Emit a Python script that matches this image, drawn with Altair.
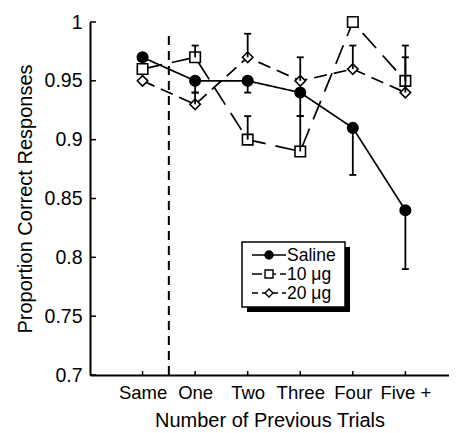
import altair as alt
import pandas as pd

# ---- data ----
categories = ["Same", "One", "Two", "Three", "Four", "Five +"]
cat_pos = [1, 2, 3, 4, 5, 6]
series_names = ["Saline", "10 μg", "20 μg"]

saline = [0.97, 0.95, 0.95, 0.94, 0.91, 0.84]
ug10 = [0.96, 0.97, 0.90, 0.89, 1.00, 0.95]
ug20 = [0.95, 0.93, 0.97, 0.95, 0.96, 0.94]

# end point of each (one-sided) error bar, None = no bar drawn
saline_err = [None, 0.94, 0.94, 0.92, 0.87, 0.79]
ug10_err = [None, 0.98, 0.92, 0.92, None, 0.98]
ug20_err = [None, 0.94, 0.99, 0.97, 0.98, 0.97]

y_ticks = [0.7, 0.75, 0.8, 0.85, 0.9, 0.95, 1.0]
divider_x = [1.5]
divider_bottom = [0.7]
divider_top = [0.993]

FONT = "Liberation Sans"

rows = []
for name, vals, errs in [("Saline", saline, saline_err),
                         ("10 μg", ug10, ug10_err),
                         ("20 μg", ug20, ug20_err)]:
    for c, p, v, e in zip(categories, cat_pos, vals, errs):
        rows.append({"series": name, "cat": c, "pos": p, "value": v, "end": e})
df = pd.DataFrame(rows)
df_err = df.dropna(subset=["end"])

xscale = alt.Scale(domain=[0, 6.83], nice=False, zero=False)
yscale = alt.Scale(domain=[0.7, 1.0], nice=False, zero=False)

label_expr = "datum.value == 1 ? 'Same' : datum.value == 2 ? 'One' : datum.value == 3 ? 'Two' : datum.value == 4 ? 'Three' : datum.value == 5 ? 'Four' : 'Five +'"

X = alt.X("pos:Q", scale=xscale,
          axis=alt.Axis(values=cat_pos, labelExpr=label_expr, ticks=False,
                        title="Number of Previous Trials", labelPadding=8,
                        titlePadding=9, grid=False))
Y = alt.Y("value:Q", scale=yscale,
          axis=alt.Axis(values=y_ticks, format="~g", ticks=False,
                        title="Proportion Correct Responses", labelPadding=8,
                        titlePadding=9, grid=False))

dash_scale = alt.Scale(domain=series_names, range=[[1, 0], [20, 10], [13, 7]])
shape_scale = alt.Scale(domain=series_names, range=["circle", "square", "diamond"])
fill_scale = alt.Scale(domain=series_names, range=["black", "white", "white"])
size_scale = alt.Scale(domain=series_names, range=[110, 110, 130])

base = alt.Chart(df)

lines = base.mark_line(color="black", strokeWidth=1.7).encode(
    x=X, y=Y,
    strokeDash=alt.StrokeDash("series:N", scale=dash_scale, legend=None),
)

points = base.mark_point(filled=True, stroke="black", strokeWidth=1.6, opacity=1).encode(
    x=X, y=Y,
    shape=alt.Shape("series:N", scale=shape_scale, legend=None),
    fill=alt.Fill("series:N", scale=fill_scale, legend=None),
    size=alt.Size("series:N", scale=size_scale, legend=None),
)

err_bars = alt.Chart(df_err).mark_rule(color="black", strokeWidth=1.8).encode(
    x=X, y=Y, y2="end:Q")
err_caps = alt.Chart(df_err).mark_point(shape="M-1,0H1", stroke="black",
                                        strokeWidth=1.8, size=49, opacity=1).encode(
    x=X, y=alt.Y("end:Q", scale=yscale))

div_df = pd.DataFrame({"pos": divider_x, "bottom": divider_bottom, "top": divider_top})
divider = alt.Chart(div_df).mark_rule(color="black", strokeWidth=2,
                                      strokeDash=[9, 6]).encode(
    x=alt.X("pos:Q", scale=xscale), y=alt.Y("bottom:Q", scale=yscale), y2="top:Q")

yt_df = pd.DataFrame({"value": y_ticks})
y_tick_marks = alt.Chart(yt_df).mark_rule(color="black", strokeWidth=1.5).encode(
    y=alt.Y("value:Q", scale=yscale), x=alt.value(0), x2=alt.value(6))
xt_df = pd.DataFrame({"pos": cat_pos})
x_tick_marks = alt.Chart(xt_df).mark_rule(color="black", strokeWidth=1.5).encode(
    x=alt.X("pos:Q", scale=xscale), y=alt.value(353), y2=alt.value(349))

# ---- legend box (decoration) ----
one = pd.DataFrame({"k": [0]})
LX0, LX1, LY0, LY1 = 152, 255, 220, 285
shadow = alt.Chart(one).mark_rect(color="black").encode(
    x=alt.value(LX0 + 5), x2=alt.value(LX1 + 5),
    y=alt.value(LY0 + 5), y2=alt.value(LY1 + 5))
box = alt.Chart(one).mark_rect(fill="white", stroke="black", strokeWidth=1.5).encode(
    x=alt.value(LX0), x2=alt.value(LX1), y=alt.value(LY0), y2=alt.value(LY1))

legend_layers = [shadow, box]
leg_dash = [[1, 0], [10, 4], [6, 4]]
leg_shape = ["circle", "square", "diamond"]
leg_fill = ["black", "white", "white"]
for i, name in enumerate(series_names):
    yy = 233 + i * 19
    legend_layers.append(alt.Chart(one).mark_rule(color="black", strokeWidth=1.6,
                                                  strokeDash=leg_dash[i]).encode(
        x=alt.value(162), x2=alt.value(196), y=alt.value(yy)))
    legend_layers.append(alt.Chart(one).mark_point(
        shape=leg_shape[i], fill=leg_fill[i], filled=True, stroke="black",
        strokeWidth=1.4, size=64, opacity=1).encode(
        x=alt.value(179), y=alt.value(yy)))
    legend_layers.append(alt.Chart(one).mark_text(
        align="left", baseline="middle", font=FONT, fontSize=17.5, color="black").encode(
        x=alt.value(197), y=alt.value(yy + 1), text=alt.value(name)))

chart = alt.layer(divider, lines, points, err_bars, err_caps, y_tick_marks,
                  x_tick_marks, *legend_layers).properties(
    width=359, height=353,
    autosize=alt.AutoSizeParams(type="none"),
    padding={"left": 82, "top": 14, "right": 0, "bottom": 58},
).configure_view(stroke=None).configure_axis(
    labelFont=FONT, titleFont=FONT, labelColor="black", titleColor="black",
    labelFontSize=18.5, titleFontSize=20, titleFontWeight="normal",
    domainColor="black", domainWidth=2,
).configure_axisY(labelFontSize=19.5)

chart.save("out.html", embed_options={"renderer": "svg", "actions": False})
